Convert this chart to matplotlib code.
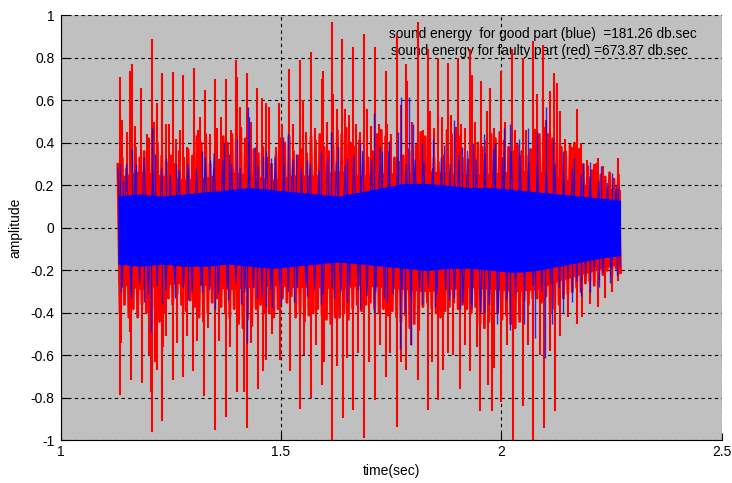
import matplotlib
matplotlib.use("Agg")
import matplotlib.pyplot as plt
import numpy as np

plt.rcParams['font.family'] = ['Liberation Sans', 'DejaVu Sans']

# solid part of each signal (coarse envelope)
env_t = [1.13, 1.18, 1.23, 1.28, 1.33, 1.38, 1.43, 1.48, 1.53, 1.58, 1.63, 1.68,
         1.73, 1.78, 1.83, 1.88, 1.93, 1.98, 2.03, 2.08, 2.13, 2.18, 2.23, 2.27]
blue_core_hi = [0.15, 0.16, 0.15, 0.16, 0.17, 0.18, 0.19, 0.18, 0.17, 0.16, 0.15, 0.17,
                0.19, 0.21, 0.21, 0.20, 0.19, 0.19, 0.18, 0.17, 0.16, 0.15, 0.14, 0.13]
blue_core_lo = [-0.17, -0.18, -0.17, -0.18, -0.18, -0.17, -0.18, -0.19, -0.18, -0.17, -0.16, -0.17,
                -0.18, -0.19, -0.20, -0.19, -0.19, -0.20, -0.21, -0.20, -0.18, -0.16, -0.14, -0.13]
red_core_hi = [0.24, 0.27, 0.25, 0.23, 0.24, 0.27, 0.25, 0.23, 0.25, 0.25, 0.27, 0.25,
               0.26, 0.26, 0.27, 0.26, 0.25, 0.26, 0.27, 0.27, 0.24, 0.21, 0.19, 0.18]
red_core_lo = [-0.26, -0.29, -0.27, -0.26, -0.27, -0.29, -0.28, -0.27, -0.28, -0.28, -0.29, -0.27,
               -0.28, -0.29, -0.30, -0.29, -0.28, -0.29, -0.30, -0.29, -0.25, -0.22, -0.19, -0.17]

t_start, t_end = 1.13, 2.27

# sample extremes every ~10 ms (faulty part, red)
red_hi = [0.30, 0.33, 0.28, 0.35, 0.38, 0.33, 0.36, 0.42, 0.45, 0.40, 0.34, 0.31, 0.34, 0.30,
          0.36, 0.33, 0.37, 0.34, 0.43, 0.40, 0.44, 0.30, 0.28, 0.32, 0.43, 0.40, 0.44,
          0.45, 0.47, 0.42, 0.39, 0.37, 0.35, 0.38, 0.33, 0.30, 0.34, 0.42, 0.40, 0.43,
          0.36, 0.34, 0.37, 0.35, 0.43, 0.41, 0.44, 0.38, 0.36, 0.39, 0.46, 0.44, 0.47,
          0.40, 0.38, 0.41, 0.35, 0.33, 0.36, 0.44, 0.46, 0.43, 0.40, 0.33, 0.31, 0.34,
          0.37, 0.36, 0.39, 0.45, 0.43, 0.46, 0.33, 0.31, 0.34, 0.46, 0.44, 0.47, 0.43,
          0.33, 0.32, 0.35, 0.40, 0.38, 0.41, 0.44, 0.42, 0.45, 0.41, 0.38, 0.36, 0.39,
          0.36, 0.34, 0.37, 0.46, 0.44, 0.47, 0.44, 0.42, 0.40, 0.38, 0.36, 0.39, 0.40,
          0.37, 0.30, 0.29, 0.27, 0.30, 0.25, 0.24, 0.26, 0.23, 0.25]
red_lo = [-0.40, -0.36, -0.42, -0.38, -0.42, -0.36, -0.40, -0.42, -0.38, -0.44, -0.40,
          -0.33, -0.36, -0.31, -0.36, -0.39, -0.34, -0.37, -0.42, -0.44, -0.40,
          -0.35, -0.33, -0.37, -0.40, -0.42, -0.38, -0.45, -0.47, -0.43, -0.46,
          -0.38, -0.36, -0.40, -0.40, -0.42, -0.38, -0.33, -0.35, -0.32,
          -0.42, -0.40, -0.44, -0.41, -0.40, -0.38, -0.41, -0.43, -0.45, -0.42,
          -0.42, -0.40, -0.43, -0.38, -0.36, -0.39, -0.36, -0.35, -0.38,
          -0.40, -0.38, -0.41, -0.39, -0.42, -0.44, -0.41, -0.47, -0.45, -0.48,
          -0.37, -0.35, -0.38, -0.40, -0.42, -0.39, -0.37, -0.35, -0.38, -0.36,
          -0.38, -0.40, -0.37, -0.45, -0.47, -0.44, -0.42, -0.40, -0.43, -0.41,
          -0.45, -0.47, -0.44, -0.34, -0.36, -0.33, -0.33, -0.35, -0.32,
          -0.40, -0.38, -0.36, -0.33, -0.31, -0.30, -0.28, -0.30, -0.26,
          -0.25, -0.27, -0.24, -0.22, -0.20, -0.23, -0.19, -0.21]

# sample extremes every ~20 ms (good part, blue)
blue_hi = [0.28, 0.30, 0.27, 0.33, 0.26, 0.28, 0.25, 0.27, 0.30, 0.28,
           0.33, 0.35, 0.32, 0.30, 0.28, 0.31, 0.29, 0.36, 0.33, 0.30,
           0.32, 0.28, 0.30, 0.27, 0.33, 0.31, 0.29, 0.34, 0.36, 0.32,
           0.38, 0.36, 0.33, 0.30, 0.32, 0.31, 0.28, 0.33, 0.30, 0.34,
           0.36, 0.32, 0.35, 0.37, 0.33, 0.36, 0.34, 0.31, 0.29, 0.27,
           0.30, 0.26, 0.28, 0.25, 0.24, 0.22, 0.21, 0.20]
blue_lo = [-0.28, -0.30, -0.26, -0.31, -0.27, -0.29, -0.25, -0.28, -0.30, -0.27,
           -0.29, -0.31, -0.28, -0.26, -0.30, -0.28, -0.32, -0.29, -0.27, -0.30,
           -0.28, -0.26, -0.29, -0.31, -0.28, -0.30, -0.27, -0.29, -0.32, -0.30,
           -0.33, -0.31, -0.29, -0.32, -0.30, -0.28, -0.31, -0.29, -0.33, -0.35,
           -0.38, -0.40, -0.36, -0.39, -0.34, -0.31, -0.29, -0.27, -0.30, -0.26,
           -0.28, -0.24, -0.25, -0.22, -0.20, -0.21, -0.19, -0.18]

# isolated peaks of the faulty part (red)
red_up_t = [1.135, 1.139, 1.150, 1.158, 1.161, 1.170, 1.182, 1.195, 1.207, 1.212, 1.219, 1.229,
            1.231, 1.240, 1.247, 1.254, 1.262, 1.270, 1.277, 1.287, 1.303, 1.312, 1.317, 1.328,
            1.338, 1.350, 1.355, 1.365, 1.375, 1.386, 1.398, 1.401, 1.408, 1.422, 1.433, 1.446,
            1.457, 1.465, 1.472, 1.488, 1.496, 1.502, 1.519, 1.528, 1.543, 1.549, 1.557, 1.568,
            1.577, 1.592, 1.596, 1.605, 1.615, 1.619, 1.628, 1.639, 1.645, 1.655, 1.664, 1.669,
            1.678, 1.688, 1.694, 1.703, 1.713, 1.723, 1.737, 1.740, 1.750, 1.762, 1.773, 1.783,
            1.786, 1.797, 1.810, 1.822, 1.833, 1.839, 1.847, 1.857, 1.865, 1.879, 1.886, 1.895,
            1.902, 1.908, 1.918, 1.929, 1.933, 1.940, 1.953, 1.966, 1.973, 1.983, 2.000, 2.009,
            2.023, 2.030, 2.048, 2.055, 2.072, 2.080, 2.095, 2.101, 2.109, 2.119, 2.125, 2.132,
            2.145, 2.160, 2.171, 2.180, 2.195, 2.210, 2.219, 2.230, 2.245, 2.265]
red_up_v = [0.71, 0.51, 0.45, 0.74, 0.77, 0.48, 0.66, 0.44, 0.89, 0.50, 0.59, 0.73,
            0.72, 0.49, 0.49, 0.735, 0.42, 0.46, 0.72, 0.38, 0.755, 0.46, 0.52, 0.65,
            0.44, 0.70, 0.47, 0.52, 0.70, 0.46, 0.79, 0.71, 0.57, 0.73, 0.50, 0.66,
            0.61, 0.59, 0.57, 0.38, 0.59, 0.49, 0.75, 0.49, 0.79, 0.60, 0.45, 0.83,
            0.47, 0.70, 0.74, 0.50, 0.967, 0.63, 0.56, 0.89, 0.56, 0.53, 0.85, 0.49,
            0.45, 0.915, 0.56, 0.48, 0.85, 0.49, 0.74, 0.49, 0.44, 0.907, 0.58, 0.77,
            0.69, 0.50, 0.97, 0.46, 0.84, 0.55, 0.47, 0.80, 0.52, 0.775, 0.53, 0.45,
            0.80, 0.49, 0.47, 0.84, 0.72, 0.50, 0.69, 0.55, 0.66, 0.47, 0.74, 0.50,
            0.84, 0.46, 0.80, 0.46, 0.88, 0.63, 0.86, 0.51, 0.645, 0.727, 0.68, 0.55,
            0.42, 0.38, 0.56, 0.40, 0.32, 0.30, 0.33, 0.29, 0.26, 0.33]
red_dn_t = [1.135, 1.137, 1.158, 1.160, 1.184, 1.200, 1.206, 1.208, 1.214, 1.219, 1.229, 1.232,
            1.240, 1.254, 1.264, 1.277, 1.287, 1.301, 1.310, 1.326, 1.335, 1.351, 1.360, 1.375,
            1.385, 1.400, 1.415, 1.422, 1.433, 1.447, 1.460, 1.467, 1.480, 1.497, 1.520, 1.543,
            1.553, 1.567, 1.580, 1.592, 1.598, 1.616, 1.628, 1.640, 1.649, 1.664, 1.675, 1.688,
            1.700, 1.713, 1.725, 1.737, 1.747, 1.762, 1.773, 1.784, 1.795, 1.810, 1.833, 1.842,
            1.855, 1.868, 1.879, 1.890, 1.905, 1.918, 1.929, 1.944, 1.951, 1.970, 1.978, 1.982,
            2.000, 2.012, 2.025, 2.027, 2.049, 2.060, 2.072, 2.087, 2.097, 2.110, 2.121, 2.132,
            2.150, 2.171, 2.182, 2.200, 2.218, 2.235, 2.250, 2.265]
red_dn_v = [-0.785, -0.54, -0.49, -0.715, -0.73, -0.60, -0.77, -0.96, -0.63, -0.67, -0.91, -0.56,
            -0.51, -0.715, -0.54, -0.70, -0.51, -0.675, -0.53, -0.79, -0.47, -0.95, -0.53, -0.89,
            -0.56, -0.77, -0.77, -0.94, -0.54, -0.76, -0.675, -0.62, -0.50, -0.62, -0.675, -0.85,
            -0.60, -0.80, -0.55, -0.74, -0.63, -1.0, -0.65, -0.895, -0.61, -0.855, -0.59, -0.99,
            -0.63, -0.81, -0.55, -0.70, -0.59, -0.935, -0.63, -0.67, -0.55, -0.715, -0.855, -0.63,
            -0.81, -0.67, -0.59, -0.60, -0.76, -0.55, -0.675, -0.56, -0.86, -0.74, -0.86, -0.66,
            -0.82, -0.55, -1.0, -0.60, -0.84, -0.55, -1.0, -0.60, -0.94, -0.58, -0.86, -0.51,
            -0.42, -0.45, -0.42, -0.36, -0.37, -0.33, -0.30, -0.25]

# isolated peaks of the good part (blue)
blue_up_t = [1.135, 1.141, 1.161, 1.172, 1.207, 1.215, 1.240, 1.262, 1.290, 1.320, 1.340, 1.370,
             1.382, 1.400, 1.425, 1.428, 1.440, 1.460, 1.478, 1.505, 1.516, 1.535, 1.560, 1.590,
             1.613, 1.630, 1.650, 1.680, 1.710, 1.730, 1.746, 1.765, 1.772, 1.790, 1.800, 1.820,
             1.845, 1.870, 1.892, 1.910, 1.935, 1.960, 1.985, 2.005, 2.020, 2.040, 2.060, 2.080,
             2.100, 2.117, 2.140, 2.165, 2.185, 2.200, 2.225, 2.250, 2.265]
blue_up_v = [0.30, 0.22, 0.37, 0.30, 0.47, 0.35, 0.33, 0.30, 0.28, 0.36, 0.32, 0.40,
             0.35, 0.42, 0.57, 0.52, 0.38, 0.34, 0.33, 0.43, 0.44, 0.35, 0.32, 0.36,
             0.45, 0.38, 0.33, 0.40, 0.54, 0.36, 0.41, 0.45, 0.615, 0.615, 0.49, 0.40,
             0.42, 0.39, 0.51, 0.38, 0.40, 0.44, 0.40, 0.47, 0.49, 0.42, 0.47, 0.45,
             0.57, 0.42, 0.36, 0.33, 0.30, 0.31, 0.29, 0.26, 0.19]
blue_dn_t = [1.138, 1.160, 1.190, 1.205, 1.230, 1.260, 1.290, 1.320, 1.350, 1.380, 1.410, 1.422,
             1.445, 1.466, 1.480, 1.500, 1.530, 1.560, 1.590, 1.620, 1.650, 1.680, 1.710, 1.740,
             1.770, 1.782, 1.795, 1.820, 1.850, 1.880, 1.905, 1.930, 1.960, 1.990, 2.020, 2.050,
             2.075, 2.098, 2.115, 2.140, 2.160, 2.180, 2.200, 2.220, 2.245, 2.262]
blue_dn_v = [-0.30, -0.33, -0.35, -0.49, -0.36, -0.33, -0.34, -0.30, -0.38, -0.34, -0.36, -0.54,
             -0.33, -0.37, -0.37, -0.36, -0.35, -0.32, -0.36, -0.33, -0.35, -0.38, -0.40, -0.35,
             -0.57, -0.40, -0.55, -0.36, -0.37, -0.34, -0.38, -0.36, -0.40, -0.45, -0.48, -0.45,
             -0.52, -0.61, -0.45, -0.40, -0.35, -0.32, -0.30, -0.28, -0.26, -0.22]

xticks = [1, 1.5, 2, 2.5]
xtick_labels = ['1', '1.5', '2', '2.5']
yticks = [-1, -0.8, -0.6, -0.4, -0.2, 0, 0.2, 0.4, 0.6, 0.8, 1]
ytick_labels = ['-1', '-0.8', '-0.6', '-0.4', '-0.2', '0', '0.2', '0.4', '0.6', '0.8', '1']


def zigzag(hi, lo):
    # alternate max / min of each window so the trace looks like a raw waveform
    n = len(hi)
    dt = (t_end - t_start) / (n - 0.5)
    t = np.empty(2 * n)
    y = np.empty(2 * n)
    t[0::2] = t_start + dt * np.arange(n)
    t[1::2] = t[0::2] + dt / 2
    y[0::2] = hi
    y[1::2] = lo
    return t, y


fig = plt.figure(figsize=(7.32, 4.83), dpi=100)
ax = fig.add_axes([0.0827, 0.088, 0.9036, 0.880])
ax.set_facecolor('#c0c0c0')

# faulty part first, good part drawn over it
rt, ry = zigzag(red_hi, red_lo)
ax.fill_between(env_t, red_core_lo, red_core_hi, color='r', lw=0, zorder=2)
ax.plot(rt, ry, color='r', lw=2.0, zorder=2)
ax.vlines(red_up_t, 0, red_up_v, colors='r', lw=1.5, zorder=2)
ax.vlines(red_dn_t, 0, red_dn_v, colors='r', lw=1.5, zorder=2)

bt, by = zigzag(blue_hi, blue_lo)
ax.fill_between(env_t, blue_core_lo, blue_core_hi, color='b', lw=0, zorder=3)
ax.plot(bt, by, color='b', lw=0.9, alpha=0.75, zorder=3)
ax.vlines(blue_up_t, 0, blue_up_v, colors='b', lw=1.0, alpha=0.8, zorder=3)
ax.vlines(blue_dn_t, 0, blue_dn_v, colors='b', lw=1.0, alpha=0.8, zorder=3)

ax.text(1.746, 0.915, 'sound energy  for good part (blue)  =181.26 db.sec',
        fontsize=9.8, va='center', zorder=1.5)
ax.text(1.749, 0.832, 'sound energy for faulty part (red) =673.87 db.sec',
        fontsize=9.8, va='center', zorder=1.5)

ax.set_xlim(1, 2.5)
ax.set_ylim(-1, 1)
ax.set_xticks(xticks)
ax.set_xticklabels(xtick_labels)
ax.set_yticks(yticks)
ax.set_yticklabels(ytick_labels)
ax.tick_params(direction='in', length=5, labelsize=10, colors='black')
ax.tick_params(axis='y', pad=4.5)
ax.grid(True, color='black', linestyle=(0, (3, 3)), lw=0.8)
ax.set_axisbelow(True)
for side in ['top', 'right']:
    ax.spines[side].set_visible(False)
ax.set_xlabel('time(sec)', fontsize=10, labelpad=3)
ax.set_ylabel('amplitude', fontsize=10, labelpad=6)

fig.savefig('out.png', dpi=100)
